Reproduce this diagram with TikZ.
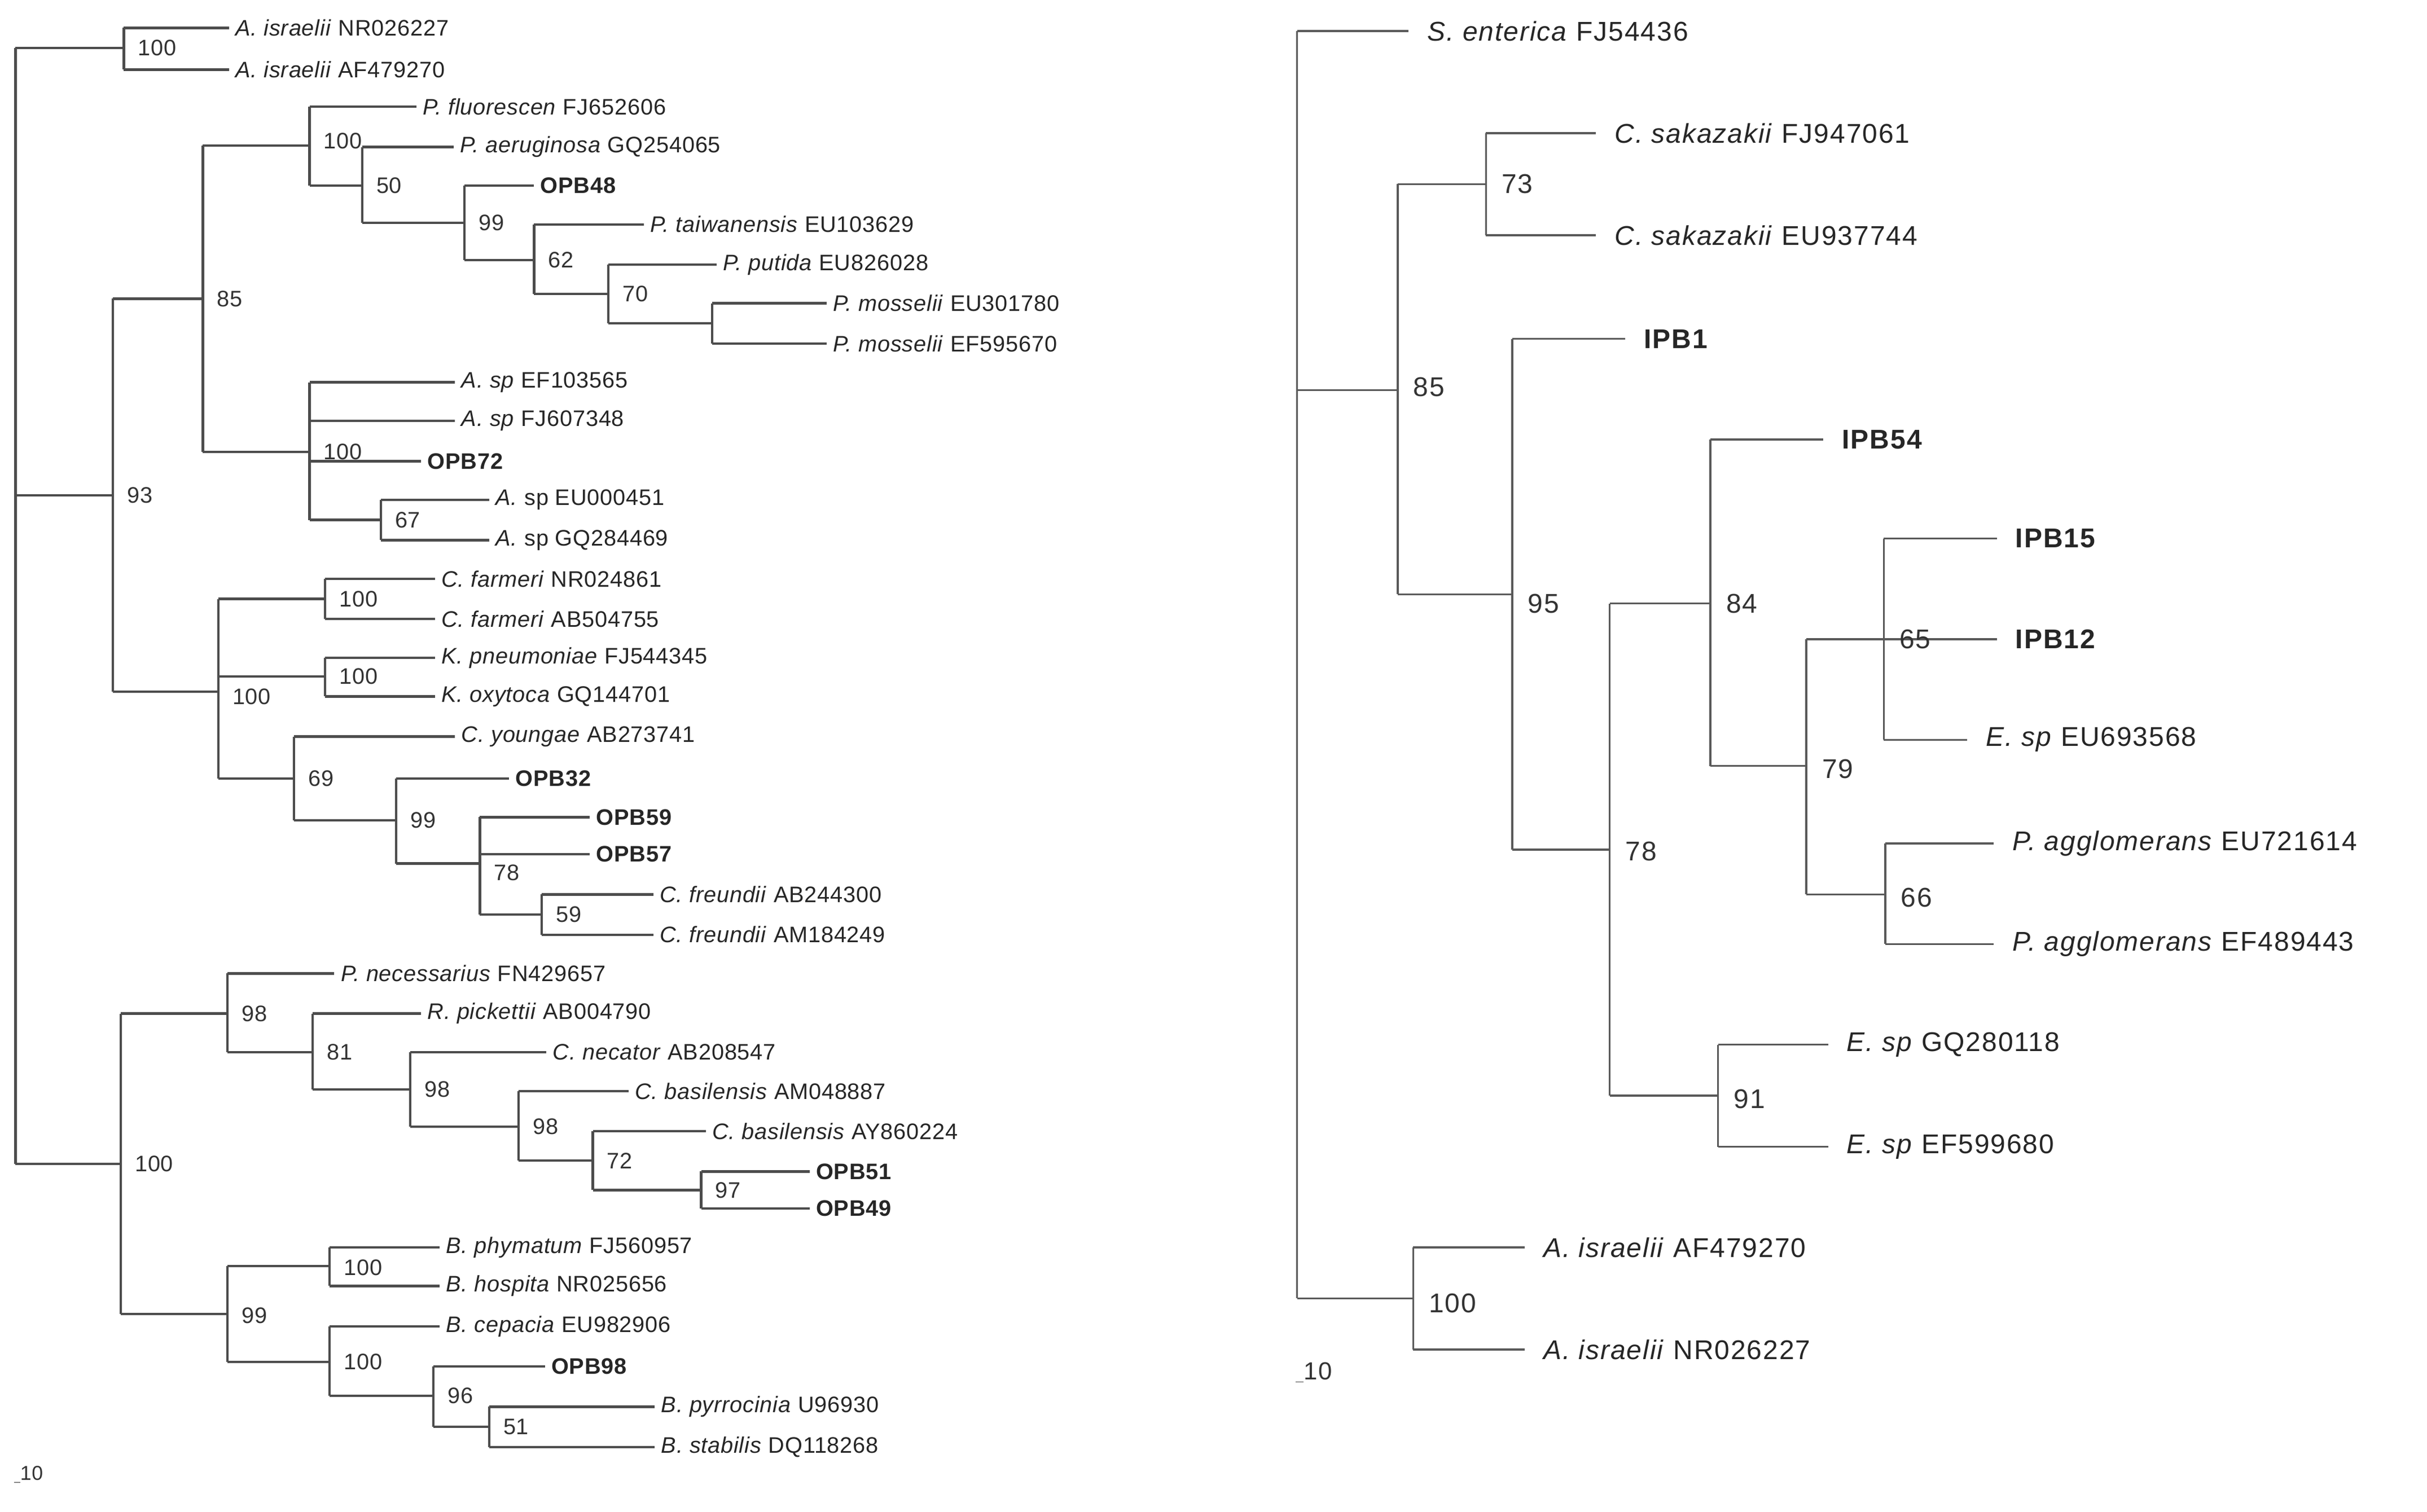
\documentclass[tikz,border=0pt]{standalone}
\usepackage{fontspec}
\setmainfont{Liberation Sans}
\newfontfamily\lfont{Liberation Sans}[LetterSpace=2]
\newfontfamily\rfont{Liberation Sans}[LetterSpace=4]
\begin{document}
\begin{tikzpicture}[x=1pt,y=-1pt,
  bl/.style={draw=black!70,line width=1.6pt},
  br/.style={draw=black!65,line width=1.2pt},
  lt/.style={anchor=west,inner sep=0pt,font=\lfont\fontsize{14.5}{14.5}\selectfont,text=black!85},
  lb/.style={anchor=west,inner sep=0pt,font=\lfont\fontsize{14.5}{14.5}\selectfont,text=black!80},
  rt/.style={anchor=west,inner sep=0pt,font=\rfont\fontsize{17.5}{17.5}\selectfont,text=black!85},
  rb/.style={anchor=west,inner sep=0pt,font=\rfont\fontsize{17.5}{17.5}\selectfont,text=black!80}]
\useasboundingbox (0,0) rectangle (1568,977);
\newcommand\Lv[3]{\draw[bl] (#1,#2)--(#1,#3);}
\newcommand\Lh[3]{\draw[bl] (#1,#2)--(#3,#2);}
\newcommand\Lleaf[4]{\draw[bl] (#1,#2)--(#3,#2); \node[lt] at (#3+4,#2) {#4};}
\newcommand\Lbs[3]{\node[lb] at (#1+9,#2) {#3};}
\newcommand\Rv[3]{\draw[br] (#1,#2)--(#1,#3);}
\newcommand\Rh[3]{\draw[br] (#1,#2)--(#3,#2);}
\newcommand\Rleaf[4]{\draw[br] (#1,#2)--(#3,#2); \node[rt] at (#3+12,#2) {#4};}
\newcommand\Rbs[3]{\node[rb] at (#1+10,#2) {#3};}
% ===== LEFT TREE =====
\Lv{10}{31}{752}
\Lh{10}{31}{80}\Lv{80}{18}{45}\Lbs{80}{31}{100}
\Lleaf{80}{18}{148}{\textit{A. israelii} NR026227}
\Lleaf{80}{45}{148}{\textit{A. israelii} AF479270}
\Lh{10}{320}{73}\Lv{73}{193}{447}\Lbs{73}{320}{93}
\Lh{73}{193}{131}\Lv{131}{94}{292}\Lbs{131}{193}{85}
\Lh{131}{94}{200}\Lv{200}{69}{120}\Lbs{200}{91}{100}
\Lleaf{200}{69}{269}{\textit{P. fluorescen} FJ652606}
\Lh{200}{120}{234}\Lv{234}{95}{144}\Lbs{234}{120}{50}
\Lleaf{234}{95}{293}{\textit{P. aeruginosa} GQ254065}
\Lh{234}{144}{300}\Lv{300}{120}{168}\Lbs{300}{144}{99}
\Lleaf{300}{120}{345}{\textbf{OPB48}}
\Lh{300}{168}{345}\Lv{345}{145}{190}\Lbs{345}{168}{62}
\Lleaf{345}{145}{416}{\textit{P. taiwanensis} EU103629}
\Lh{345}{190}{393}\Lv{393}{171}{209}\Lbs{393}{190}{70}
\Lleaf{393}{171}{463}{\textit{P. putida} EU826028}
\Lh{393}{209}{460}\Lv{460}{196}{222}
\Lleaf{460}{196}{534}{\textit{P. mosselii} EU301780}
\Lleaf{460}{222}{534}{\textit{P. mosselii} EF595670}
\Lh{131}{292}{200}\Lv{200}{247}{336}\Lbs{200}{292}{100}
\Lleaf{200}{247}{294}{\textit{A. sp} EF103565}
\Lleaf{200}{272}{294}{\textit{A. sp} FJ607348}
\Lleaf{200}{298}{272}{\textbf{OPB72}}
\Lh{200}{336}{246}\Lv{246}{323}{349}\Lbs{246}{336}{67}
\Lleaf{246}{323}{316}{\textit{A.} sp EU000451}
\Lleaf{246}{349}{316}{\textit{A.} sp GQ284469}
\Lh{73}{447}{141}\Lv{141}{387}{503}\Lbs{141}{450}{100}
\Lh{141}{387}{210}\Lv{210}{374}{400}\Lbs{210}{387}{100}
\Lleaf{210}{374}{281}{\textit{C. farmeri} NR024861}
\Lleaf{210}{400}{281}{\textit{C. farmeri} AB504755}
\Lh{141}{437}{210}\Lv{210}{425}{450}\Lbs{210}{437}{100}
\Lleaf{210}{425}{281}{\textit{K. pneumoniae} FJ544345}
\Lleaf{210}{450}{281}{\textit{K. oxytoca} GQ144701}
\Lh{141}{503}{190}\Lv{190}{476}{530}\Lbs{190}{503}{69}
\Lleaf{190}{476}{294}{\textit{C. youngae} AB273741}
\Lh{190}{530}{256}\Lv{256}{503}{558}\Lbs{256}{530}{99}
\Lleaf{256}{503}{329}{\textbf{OPB32}}
\Lh{256}{558}{310}\Lv{310}{528}{591}\Lbs{310}{564}{78}
\Lleaf{310}{528}{381}{\textbf{OPB59}}
\Lleaf{310}{552}{381}{\textbf{OPB57}}
\Lh{310}{591}{350}\Lv{350}{578}{604}\Lbs{350}{591}{59}
\Lleaf{350}{578}{422}{\textit{C. freundii} AB244300}
\Lleaf{350}{604}{422}{\textit{C. freundii} AM184249}
\Lh{10}{752}{78}\Lv{78}{655}{849}\Lbs{78}{752}{100}
\Lh{78}{655}{147}\Lv{147}{629}{680}\Lbs{147}{655}{98}
\Lleaf{147}{629}{216}{\textit{P. necessarius} FN429657}
\Lh{147}{680}{202}\Lv{202}{655}{704}\Lbs{202}{680}{81}
\Lleaf{202}{655}{272}{\textit{R. pickettii} AB004790}
\Lh{202}{704}{265}\Lv{265}{680}{728}\Lbs{265}{704}{98}
\Lleaf{265}{680}{353}{\textit{C. necator} AB208547}
\Lh{265}{728}{335}\Lv{335}{705}{750}\Lbs{335}{728}{98}
\Lleaf{335}{705}{406}{\textit{C. basilensis} AM048887}
\Lh{335}{750}{383}\Lv{383}{731}{769}\Lbs{383}{750}{72}
\Lleaf{383}{731}{456}{\textit{C. basilensis} AY860224}
\Lh{383}{769}{453}\Lv{453}{757}{781}\Lbs{453}{769}{97}
\Lleaf{453}{757}{523}{\textbf{OPB51}}
\Lleaf{453}{781}{523}{\textbf{OPB49}}
\Lh{78}{849}{147}\Lv{147}{818}{880}\Lbs{147}{850}{99}
\Lh{147}{818}{213}\Lv{213}{806}{831}\Lbs{213}{819}{100}
\Lleaf{213}{806}{284}{\textit{B. phymatum} FJ560957}
\Lleaf{213}{831}{284}{\textit{B. hospita} NR025656}
\Lh{147}{880}{213}\Lv{213}{857}{902}\Lbs{213}{880}{100}
\Lleaf{213}{857}{284}{\textit{B. cepacia} EU982906}
\Lh{213}{902}{280}\Lv{280}{883}{922}\Lbs{280}{902}{96}
\Lleaf{280}{883}{352}{\textbf{OPB98}}
\Lh{280}{922}{316}\Lv{316}{909}{935}\Lbs{316}{922}{51}
\Lleaf{316}{909}{423}{\textit{B. pyrrocinia} U96930}
\Lleaf{316}{935}{423}{\textit{B. stabilis} DQ118268}
\node[lb,font=\lfont\fontsize{13}{13}\selectfont] (sbl) at (9,953) {\underline{\ }10};
% ===== RIGHT TREE =====
\Rv{838}{20}{839}
\Rleaf{838}{20}{910}{\textit{S. enterica} FJ54436}
\Rh{838}{252}{903}\Rv{903}{119}{384}\Rbs{903}{250}{85}
\Rh{903}{119}{960}\Rv{960}{86}{152}\Rbs{960}{119}{73}
\Rleaf{960}{86}{1031}{\textit{C. sakazakii} FJ947061}
\Rleaf{960}{152}{1031}{\textit{C. sakazakii} EU937744}
\Rh{903}{384}{977}\Rv{977}{219}{549}\Rbs{977}{390}{95}
\Rleaf{977}{219}{1050}{\textbf{IPB1}}
\Rh{977}{549}{1040}\Rv{1040}{390}{708}\Rbs{1040}{550}{78}
\Rh{1040}{390}{1105}\Rv{1105}{284}{495}\Rbs{1105}{390}{84}
\Rleaf{1105}{284}{1178}{\textbf{IPB54}}
\Rh{1105}{495}{1167}\Rv{1167}{413}{578}\Rbs{1167}{497}{79}
\Rh{1167}{413}{1217}\Rv{1217}{348}{478}
\Rleaf{1217}{348}{1290}{\textbf{IPB15}}
\Rleaf{1217}{413}{1290}{\textbf{IPB12}}
\Rbs{1217}{413}{65}
\Rleaf{1217}{478}{1271}{\textit{E. sp} EU693568}
\Rh{1167}{578}{1218}\Rv{1218}{545}{610}\Rbs{1218}{580}{66}
\Rleaf{1218}{545}{1288}{\textit{P. agglomerans} EU721614}
\Rleaf{1218}{610}{1288}{\textit{P. agglomerans} EF489443}
\Rh{1040}{708}{1110}\Rv{1110}{675}{741}\Rbs{1110}{710}{91}
\Rleaf{1110}{675}{1181}{\textit{E. sp} GQ280118}
\Rleaf{1110}{741}{1181}{\textit{E. sp} EF599680}
\Rh{838}{839}{913}\Rv{913}{806}{872}\Rbs{913}{842}{100}
\Rleaf{913}{806}{985}{\textit{A. israelii} AF479270}
\Rleaf{913}{872}{985}{\textit{A. israelii} NR026227}
\node[rb,font=\rfont\fontsize{16}{16}\selectfont] (sbr) at (837,887) {\underline{\ }10};
\end{tikzpicture}
\end{document}
